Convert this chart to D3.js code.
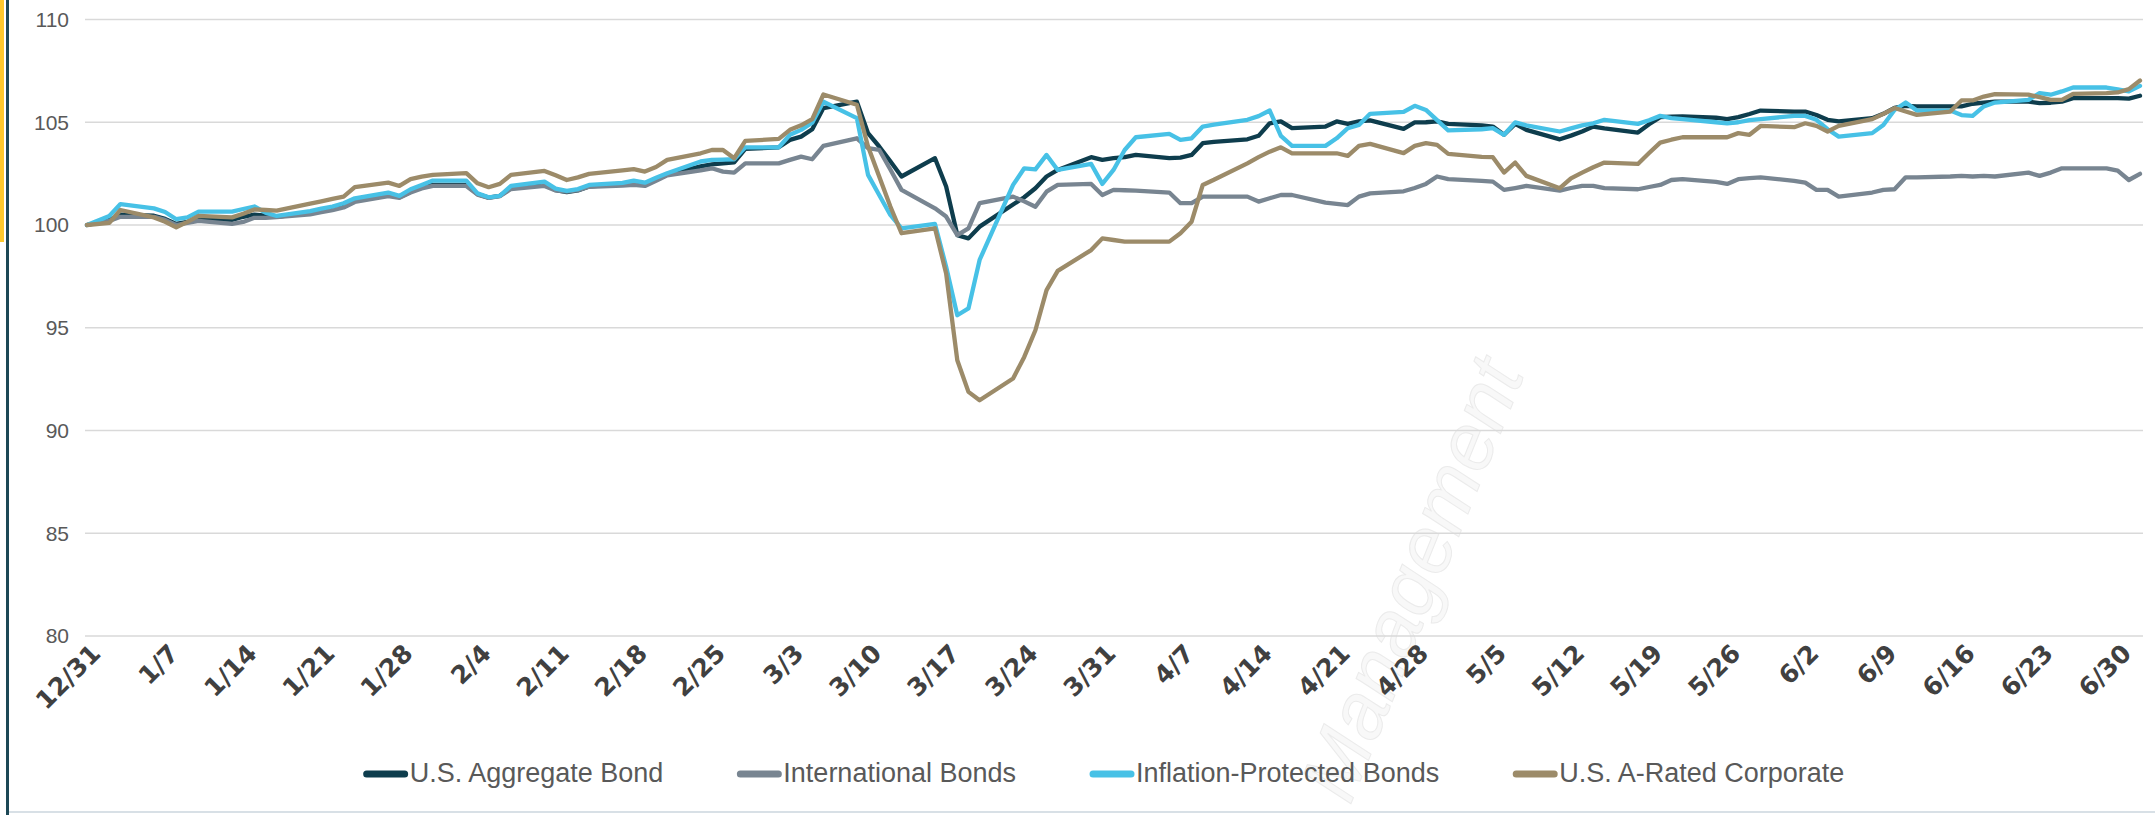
<!doctype html>
<html>

<head>
  <meta charset="UTF-8" />
  <title>Bond index growth, 12/31 - 7/2</title>
  <style>
    html,
    body {
      margin: 0;
      padding: 0;
      background: #fff;
    }

    svg {
      display: block;
      font-family: "Liberation Sans", Arial, sans-serif;
    }

    .grid line {
      stroke: #d9d9d9;
      stroke-width: 1.5px;
    }

    .ytick text {
      fill: #595959;
      font-size: 21px;
    }

    .xtick text {
      fill: #404040;
      font-size: 25px;
      font-weight: bold;
      font-family: "DejaVu Sans", sans-serif;
    }

    .series path {
      fill: none;
      stroke-width: 4.3px;
      stroke-linejoin: round;
      stroke-linecap: round;
    }

    .legend text {
      fill: #595959;
      font-size: 27px;
      dominant-baseline: middle;
    }
  </style>
</head>

<body>
  <svg id="chart" width="2155" height="815"></svg>
  <script src="https://cdn.jsdelivr.net/npm/d3@7"></script>
  <script>
    // data: trading days from 12/31/2019, index level = 100 at start
    const dates = [
      "12/31", "1/2", "1/3", "1/6", "1/7", "1/8", "1/9", "1/10", "1/13", "1/14", "1/15", "1/16", "1/17", "1/20", "1/21", "1/22", "1/23", "1/24", "1/27", "1/28", "1/29", "1/30", "1/31",
      "2/3", "2/4", "2/5", "2/6", "2/7", "2/10", "2/11", "2/12", "2/13", "2/14", "2/17", "2/18", "2/19", "2/20", "2/21", "2/24", "2/25", "2/26", "2/27", "2/28",
      "3/2", "3/3", "3/4", "3/5", "3/6", "3/9", "3/10", "3/11", "3/12", "3/13", "3/16", "3/17", "3/18", "3/19", "3/20", "3/23", "3/24", "3/25", "3/26", "3/27", "3/30", "3/31",
      "4/1", "4/2", "4/3", "4/6", "4/7", "4/8", "4/9", "4/10", "4/13", "4/14", "4/15", "4/16", "4/17", "4/20", "4/21", "4/22", "4/23", "4/24", "4/27", "4/28", "4/29", "4/30",
      "5/1", "5/4", "5/5", "5/6", "5/7", "5/8", "5/11", "5/12", "5/13", "5/14", "5/15", "5/18", "5/19", "5/20", "5/21", "5/22", "5/25", "5/26", "5/27", "5/28", "5/29",
      "6/1", "6/2", "6/3", "6/4", "6/5", "6/8", "6/9", "6/10", "6/11", "6/12", "6/15", "6/16", "6/17", "6/18", "6/19", "6/22", "6/23", "6/24", "6/25", "6/26", "6/29", "6/30",
      "7/1", "7/2"
    ];

    const aggregateBond = [
      100.00, 100.25, 100.50, 100.45, 100.30, 100.05, 100.15, 100.30, 100.25, 100.40, 100.50, 100.45, 100.40, 100.60, 100.72, 100.82, 100.95, 101.20, 101.48, 101.35, 101.62, 101.85, 101.95,
      101.95, 101.50, 101.33, 101.42, 101.80, 101.98, 101.70, 101.60, 101.68, 101.88, 101.98, 102.08, 102.00, 102.22, 102.45, 102.85, 102.95, 103.00, 103.05, 103.70,
      103.78, 104.14, 104.30, 104.66, 105.69, 106.00, 104.47, 103.82, 103.10, 102.36, 103.25, 101.87, 99.51, 99.35, 99.92, 101.00, 101.35, 101.79, 102.36, 102.68, 103.30, 103.17,
      103.25, 103.30, 103.41, 103.25, 103.28, 103.41, 103.98, 104.05, 104.17, 104.34, 104.95, 105.04, 104.71, 104.79, 105.04, 104.92, 105.04, 105.09, 104.68, 104.99, 105.00, 105.04,
      104.92, 104.85, 104.79, 104.39, 104.92, 104.63, 104.17, 104.35, 104.55, 104.79, 104.70, 104.50, 104.90, 105.25, 105.27, 105.28, 105.22, 105.15, 105.25, 105.40, 105.57,
      105.52, 105.52, 105.35, 105.12, 105.04, 105.20, 105.41, 105.70, 105.80, 105.77, 105.77, 105.77, 105.90, 105.95, 106.00, 106.00, 105.93, 105.95, 106.00, 106.17, 106.17, 106.17,
      106.15, 106.29
    ];

    const internationalBonds = [
      100.00, 100.20, 100.40, 100.40, 100.25, 100.00, 100.10, 100.20, 100.05, 100.15, 100.35, 100.35, 100.38, 100.52, 100.62, 100.72, 100.85, 101.12, 101.40, 101.32, 101.58, 101.78, 101.90,
      101.90, 101.48, 101.32, 101.40, 101.75, 101.90, 101.68, 101.62, 101.70, 101.86, 101.92, 101.95, 101.90, 102.15, 102.42, 102.66, 102.76, 102.60, 102.55, 103.00,
      103.00, 103.17, 103.33, 103.20, 103.85, 104.22, 103.74, 103.66, 102.70, 101.71, 100.81, 100.41, 99.51, 99.84, 101.06, 101.38, 101.15, 100.89, 101.62, 101.95, 102.00, 101.46,
      101.71, 101.69, 101.67, 101.58, 101.06, 101.06, 101.38, 101.38, 101.38, 101.14, 101.30, 101.46, 101.46, 101.09, 101.03, 100.97, 101.38, 101.54, 101.64, 101.80, 102.00, 102.36,
      102.23, 102.15, 102.11, 101.71, 101.80, 101.90, 101.67, 101.80, 101.90, 101.90, 101.79, 101.74, 101.85, 101.95, 102.19, 102.23, 102.10, 102.00, 102.23, 102.28, 102.32,
      102.15, 102.06, 101.71, 101.71, 101.38, 101.58, 101.71, 101.74, 102.32, 102.32, 102.36, 102.39, 102.36, 102.39, 102.36, 102.55, 102.39, 102.55, 102.76, 102.76, 102.76, 102.65,
      102.19, 102.49
    ];

    const inflationProtected = [
      100.00, 100.44, 101.02, 100.81, 100.63, 100.28, 100.37, 100.65, 100.65, 100.78, 100.90, 100.60, 100.44, 100.68, 100.80, 100.90, 101.06, 101.30, 101.58, 101.42, 101.74, 101.95, 102.16,
      102.16, 101.54, 101.35, 101.42, 101.90, 102.11, 101.77, 101.66, 101.75, 101.95, 102.05, 102.16, 102.06, 102.30, 102.52, 103.09, 103.17, 103.18, 103.20, 103.78,
      103.78, 104.39, 104.63, 104.98, 106.00, 105.20, 102.44, 101.46, 100.49, 99.84, 100.05, 97.97, 95.61, 95.94, 98.30, 101.95, 102.76, 102.71, 103.41, 102.68, 102.97, 102.00,
      102.68, 103.65, 104.27, 104.43, 104.14, 104.22, 104.79, 104.88, 105.12, 105.30, 105.57, 104.34, 103.85, 103.85, 104.22, 104.71, 104.87, 105.41, 105.50, 105.80, 105.60, 105.10,
      104.60, 104.66, 104.71, 104.39, 104.99, 104.85, 104.55, 104.70, 104.85, 104.95, 105.12, 104.92, 105.10, 105.31, 105.20, 105.15, 105.00, 104.95, 105.00, 105.10, 105.15,
      105.31, 105.31, 105.12, 104.66, 104.30, 104.47, 104.87, 105.60, 105.96, 105.57, 105.57, 105.35, 105.31, 105.77, 105.96, 106.09, 106.42, 106.34, 106.50, 106.69, 106.69, 106.60,
      106.50, 106.77
    ];

    const aRatedCorporate = [
      100.00, 100.10, 100.73, 100.37, 100.16, 99.89, 100.15, 100.44, 100.37, 100.55, 100.76, 100.73, 100.70, 101.04, 101.15, 101.27, 101.38, 101.84, 102.06, 101.90, 102.23, 102.35, 102.44,
      102.52, 102.03, 101.84, 102.00, 102.44, 102.63, 102.42, 102.19, 102.32, 102.49, 102.66, 102.72, 102.60, 102.82, 103.17, 103.49, 103.65, 103.65, 103.25, 104.09,
      104.19, 104.63, 104.85, 105.15, 106.35, 105.85, 103.82, 102.36, 100.90, 99.60, 99.84, 97.64, 93.42, 91.88, 91.47, 92.53, 93.58, 94.88, 96.83, 97.77, 98.78, 99.35,
      99.27, 99.19, 99.19, 99.19, 99.60, 100.16, 101.95, 102.20, 103.00, 103.30, 103.57, 103.78, 103.49, 103.49, 103.49, 103.36, 103.85, 103.95, 103.50, 103.85, 103.98, 103.90,
      103.46, 103.32, 103.30, 102.55, 103.04, 102.39, 101.79, 102.27, 102.55, 102.81, 103.04, 102.97, 103.50, 104.01, 104.15, 104.27, 104.27, 104.27, 104.47, 104.39, 104.82,
      104.76, 104.95, 104.82, 104.55, 104.82, 105.15, 105.41, 105.69, 105.52, 105.36, 105.52, 106.06, 106.06, 106.25, 106.37, 106.34, 106.22, 106.09, 106.09, 106.38, 106.42, 106.45,
      106.61, 107.03
    ];

    const seriesNames = ["U.S. Aggregate Bond", "International Bonds", "Inflation-Protected Bonds", "U.S. A-Rated Corporate"];
    const seriesColors = ["#0e3d4d", "#788591", "#47c1e6", "#9c8b69"];

    const tickLabels = ["12/31", "1/7", "1/14", "1/21", "1/28", "2/4", "2/11", "2/18", "2/25", "3/3", "3/10", "3/17", "3/24",
      "3/31", "4/7", "4/14", "4/21", "4/28", "5/5", "5/12", "5/19", "5/26", "6/2", "6/9", "6/16", "6/23", "6/30"];
    const yTicks = [80, 85, 90, 95, 100, 105, 110];

    // helpers
    function parseMD(s) {
      const [m, d] = s.split('/').map(Number);
      return new Date(m === 12 ? 2019 : 2020, m - 1, d);
    }

    const series = [aggregateBond, internationalBonds, inflationProtected, aRatedCorporate].map((vals, i) => ({
      name: seriesNames[i],
      color: seriesColors[i],
      values: vals.map((v, j) => ({ date: parseMD(dates[j]), value: v }))
    }));

    // layout
    const plot = { left: 87, right: 2140, top: 19.5, bottom: 636 };

    const svg = d3.select('#chart');

    const x = d3.scaleTime()
      .domain([parseMD(dates[0]), parseMD(dates[dates.length - 1])])
      .range([plot.left, plot.right]);

    const y = d3.scaleLinear()
      .domain([80, 110])
      .range([plot.bottom, plot.top]);

    // frame decorations on the left edge and bottom
    svg.append('rect').attr('x', 0).attr('y', 0).attr('width', 4).attr('height', 242).attr('fill', '#fcc82d');
    svg.append('rect').attr('x', 6).attr('y', 0).attr('width', 3).attr('height', 815).attr('fill', '#1d4856');
    svg.append('rect').attr('x', 9).attr('y', 811).attr('width', 2146).attr('height', 2).attr('fill', '#d8e0e6');

    // faint watermark
    svg.append('text')
      .attr('transform', 'translate(1350,806) rotate(-68)')
      .attr('font-size', 80)
      .attr('font-style', 'italic')
      .attr('fill', '#f8f8f8')
      .attr('stroke', '#ebebeb')
      .attr('stroke-width', 1)
      .text('Management');

    // gridlines + y labels
    const grid = svg.append('g').attr('class', 'grid');
    grid.selectAll('line')
      .data(yTicks)
      .join('line')
      .attr('x1', plot.left - 2)
      .attr('x2', plot.right + 3)
      .attr('y1', d => y(d))
      .attr('y2', d => y(d));

    const yAxis = svg.append('g').attr('class', 'ytick');
    yAxis.selectAll('text')
      .data(yTicks)
      .join('text')
      .attr('x', 69)
      .attr('y', d => y(d))
      .attr('dy', '0.35em')
      .attr('text-anchor', 'end')
      .text(d => d);

    // x labels, rotated
    const xAxis = svg.append('g').attr('class', 'xtick');
    xAxis.selectAll('text')
      .data(tickLabels)
      .join('text')
      .attr('transform', d => `translate(${x(parseMD(d)) + 15},${plot.bottom + 19}) rotate(-45)`)
      .attr('text-anchor', 'end')
      .text(d => d);

    // lines
    const line = d3.line()
      .x(d => x(d.date))
      .y(d => y(d.value));

    svg.append('g').attr('class', 'series')
      .selectAll('path')
      .data(series)
      .join('path')
      .attr('stroke', d => d.color)
      .attr('d', d => line(d.values));

    // legend
    const legend = svg.append('g').attr('class', 'legend');
    const items = legend.selectAll('g')
      .data(series)
      .join('g');

    items.append('line')
      .attr('x1', 3).attr('x2', 41)
      .attr('y1', 0).attr('y2', 0)
      .attr('stroke', d => d.color)
      .attr('stroke-width', 7)
      .attr('stroke-linecap', 'round');

    items.append('text')
      .attr('x', 46)
      .attr('y', 1)
      .text(d => d.name);

    const widths = [];
    items.each(function () {
      widths.push(46 + this.querySelector('text').getComputedTextLength());
    });
    const gap = 74;
    const total = d3.sum(widths) + gap * (widths.length - 1);
    let cursor = 1104 - total / 2;
    const offsets = widths.map(w => { const o = cursor; cursor += w + gap; return o; });
    items.attr('transform', (d, i) => `translate(${offsets[i]},774)`);
  </script>
</body>

</html>
